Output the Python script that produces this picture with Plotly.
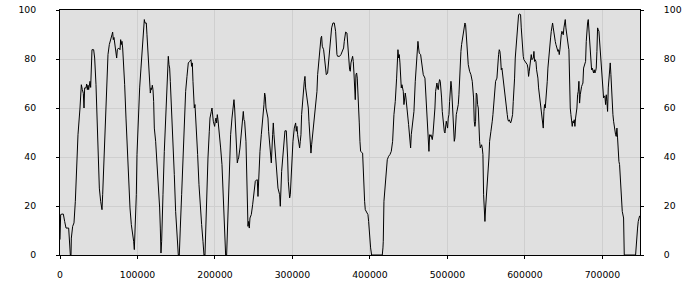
import plotly.graph_objects as go

x_vals = [
    0, 860, 2580, 4300, 6020, 7740, 11180, 12040, 13330, 14190, 14620, 16340, 18060, 19780, 21500, 23220,
    25800, 27530, 28820, 30100, 30970, 31830, 33550, 34410, 35270, 36130, 36990, 38710, 39570, 40430, 41290,
    43440, 44730, 46450, 47740, 49030, 50750, 52470, 54190, 55050, 56770, 58490, 60210, 61930, 63650, 65360,
    67080, 67940, 68800, 69660, 70950, 72260, 73120, 73980, 75700, 77420, 78280, 79140, 80000, 80860, 81720,
    83440, 85160, 86880, 88600, 90320, 92040, 93760,
    95050, 95910, 96770, 97630, 98490, 99350, 101070, 102790, 104510, 106230, 107950, 108810, 109670, 111390,
    112250, 113970, 115690, 116560, 117420, 118280, 119140, 120000, 120860, 121720, 123440, 125160, 126880,
    128600, 129460, 130320, 131180, 132040, 132900, 134620, 136340, 138060, 139780, 140640, 141500, 142360,
    144080, 145800, 147520, 149240, 150960, 152680, 153970, 154400, 155260, 156980, 158700, 160430, 162150,
    163870, 165590, 167310, 169030, 169890, 170750, 171610, 172470, 173330, 174190, 175910, 177630, 179350,
    181070, 182790, 184510, 185800,
    187090, 187520, 189240, 190960, 192680, 193540, 195260, 196130, 197850, 199570, 200430, 201290, 202150,
    203010, 203870, 205590, 207310, 209030, 210750, 212470, 213760, 215050, 215910, 216770, 218490, 220210,
    221930, 223650, 224510, 225370, 226230, 227090, 227950, 228810, 229670, 230530, 232250, 233970, 235690,
    236550, 237410, 238270, 239990, 240850, 241710, 242580, 243440, 244300, 245160, 246880, 248600, 250320,
    252040, 253760, 254620, 255480, 256340, 258060, 259780, 261500, 263220, 264080, 264940, 265800, 267520,
    268380, 269250, 270970, 271830, 272690, 274410, 275270, 276130, 277850, 279570, 281290,
    283440, 284300, 286020, 287740, 288600, 289460, 290320, 292040, 292900, 293760, 294620, 296340, 297200,
    298920, 300640, 302360, 304080, 304940, 305800, 306660, 307520, 308380, 309240, 310100, 310960, 311820,
    312680, 314400, 315260, 316120, 316980, 318700, 320430, 321290, 322150, 323010, 323870, 324730, 326450,
    328170, 329890, 331610, 332470, 334190, 335910, 336770, 337630, 338490, 340210, 341070, 342790, 343650,
    345370, 347090, 348810, 350530, 352250, 353970, 355690, 356550, 357410, 358270, 360850, 362570, 364290,
    366010, 366870, 367730, 368600, 370320, 371180, 372040, 372900, 373760, 374620, 375480,
    377630, 378490, 379350, 380210, 381070, 381930, 382790, 383650, 384510, 385370, 386230, 387090, 387950,
    390530, 391390, 392250, 393110, 393970, 395690, 397410, 398270, 399130, 400850, 402140, 415910, 416770,
    417200, 418060, 419780, 420640, 422360, 424080, 425800, 427520, 429240, 430960, 432680, 434400, 436120,
    436980, 437840, 438700, 439560, 440420, 441280, 442140, 443000, 443860, 444720, 445580, 446440, 447300,
    449020, 449880, 450740, 451600, 452470, 453330, 454190, 455050, 456770, 458490, 460210, 461070, 461930,
    462790, 463650, 465370, 467090, 468810,
    470960, 471820, 472680, 473540, 474400, 475260, 476120, 476980, 477840, 478700, 479560, 480420, 481280,
    482140, 483000, 483860, 484720, 485580, 486440, 487300, 488160, 489020, 489880, 490740, 491600, 492460,
    493320, 494190, 495050, 495910, 496770, 497630, 498490, 499350, 500210, 501070, 501930, 502790, 503650,
    504510, 505370, 506230, 507090, 507950, 508810, 509670, 510530, 511390, 512250, 513110, 513970, 514830,
    515690, 516550, 517410, 518270, 519130, 520850, 521710, 522570, 523430, 524290, 525150, 526010, 526870,
    528590, 529450, 530310, 532030, 532890, 533750, 534610, 535470, 536330, 537190, 538060, 538920, 539780,
    541500, 542360, 543220, 544080, 544940, 545800, 546660, 547520, 548380, 549240, 550100, 550960, 552680,
    553540, 554400, 556120, 556980, 557840, 558700, 560420, 561280, 562140, 563860,
    564290, 565150, 566010, 566870, 567730, 568590, 569450, 570310, 571170, 572030, 572890, 573760, 574620,
    575480, 576340, 577200, 578060, 578920, 579780, 580640, 581500, 582360, 583220, 584080, 584940, 585800,
    586660, 587520, 588380, 589240, 590100, 590960, 591820, 593540, 594400, 595260, 596120, 596980, 597840,
    598700, 600420, 602140, 603000, 603860, 604720, 605580, 606440, 607300, 608160, 609020, 609880, 610750,
    611610, 612470, 613330, 614190, 615050, 615910, 616770, 617630, 618490, 619350, 620210, 621070, 621930,
    622790, 623650, 624510, 625370, 626230, 627090, 627950, 628810, 629670, 630530, 631390, 632260, 633120,
    633980, 634840, 635700, 636560, 637420, 638280, 639140, 640000, 640860, 641720, 642580, 643440, 644300,
    645160, 646020, 646880, 647740, 648600, 649460, 650320, 651180, 652030, 652890, 653750, 654610, 655470,
    656330,
    656760, 657620, 658480, 659340, 660200, 661060, 661920, 662780, 663640, 664500, 665370, 666230, 667090,
    667950, 668810, 669670, 670530, 671390, 672250, 673110, 673970, 674830, 675690, 676550, 677410, 678270,
    679130, 679990, 680850, 681710, 682570, 683430, 684290, 685150, 686010, 686870, 687730, 688590, 689450,
    690310, 691170, 692030, 692890, 693750, 694610, 695470, 696330, 697190, 698050, 698910, 699770, 700630,
    701500, 702360, 703220, 704080, 704940, 705800, 706660, 707520, 708380, 709240, 710100, 710960, 711820,
    712680, 713540, 714400, 715260, 716120, 716980, 717840, 718700, 719560, 720420, 721280, 722140, 723000,
    723870, 724730, 725590, 727310, 728170, 742790, 743650, 744510, 745370, 746230, 747090, 748000,
]

y_vals = [
    6.3, 16.5, 16.7, 16.7, 13.7, 11.0, 11.0, 5.6, 0, 0, 6.9, 11.7, 13.1, 21.9, 38.2, 49.1,
    60.0, 69.5, 67.5, 66.0, 60.0, 68.2, 68.2, 69.8, 67.5, 69.3, 67.5, 70.9, 68.4, 76.3, 83.8,
    83.8, 80.4, 69.5, 54.6, 45.0, 27.3, 21.9, 18.5, 24.6, 41.0, 57.3, 72.2, 81.8, 85.9, 88.6,
    89.9, 91.0, 87.9, 88.8, 85.6, 83.4, 80.4, 83.8, 84.5, 83.8, 87.9, 85.9, 87.2, 84.5, 80.4,
    69.5, 55.9, 42.3, 28.7, 19.2, 12.4, 9.4,
    5.6, 2.2, 8.3, 15.1, 24.6, 41.0, 55.9, 68.2, 76.3, 85.9, 92.7, 96.1, 94.7, 94.7,
    89.9, 80.4, 70.9, 66.1, 68.2, 67.5, 69.3, 67.5, 62.7, 51.8, 46.4, 38.2, 27.3,
    19.2, 11.0, 0.8, 5.6, 12.4, 24.6, 42.3, 57.3, 70.9, 81.1, 77.7, 76.3, 70.9,
    60.0, 46.4, 32.8, 17.8, 6.9, 0, 0, 5.6, 11.0, 24.6, 41.0, 54.6, 66.8,
    72.9, 78.4, 79.0, 79.7, 77.0, 78.4, 70.9, 62.7, 60.0, 61.4, 53.2, 41.0, 28.7,
    17.8, 12.4, 5.6, 0,
    0, 5.6, 24.6, 39.6, 50.5, 55.9, 58.6, 60.0, 54.6, 52.5, 54.6, 55.9, 53.9,
    57.3, 55.2, 50.5, 43.7, 36.9, 21.9, 12.4, 0, 0, 8.3, 19.2, 35.5, 49.1,
    55.9, 62.0, 63.4, 60.0, 53.2, 46.4, 39.6, 37.6, 38.9, 39.6, 43.7, 49.1, 55.9,
    58.6, 55.2, 54.6, 46.4, 35.5, 19.2, 11.7, 13.7, 11.0, 15.1, 16.5, 20.5, 24.6,
    30.1, 30.7, 30.7, 23.9, 31.4, 42.3, 49.1, 54.6, 61.4, 66.1, 64.8, 60.0, 57.3,
    55.9, 50.5, 45.0, 41.0, 37.6, 49.1, 53.9, 49.1, 41.0, 35.5, 27.3,
    24.6, 19.9, 34.1, 41.0, 46.4, 50.5, 50.7, 50.7, 46.4, 39.6, 30.1, 23.3, 24.6,
    38.2, 46.4, 51.8, 53.9, 50.5, 52.5, 49.1, 46.4, 45.7, 43.7, 46.4, 49.1, 57.3,
    61.4, 68.2, 70.9, 72.9, 68.2, 64.1, 60.0, 54.6, 49.1, 43.7, 41.6, 45.0, 50.5,
    55.9, 60.0, 66.8, 73.6, 80.4, 83.8, 88.6, 89.3, 85.2, 83.8, 80.4, 76.3, 73.6,
    74.3, 80.4, 88.6, 92.7, 94.7, 94.7, 91.3, 85.9, 81.8, 81.1, 81.1, 81.8, 83.1,
    84.5, 87.2, 89.9, 91.0, 90.6, 87.2, 81.8, 77.7, 75.6, 75.0, 78.4,
    81.1, 79.0, 74.3, 68.2, 63.4, 73.6, 74.3, 72.2, 62.7, 60.0, 53.9, 46.4, 42.3,
    41.6, 32.8, 28.7, 21.9, 18.5, 17.1, 16.5, 13.7, 8.3, 2.9, 0, 0, 2.9,
    5.6, 21.9, 30.1, 34.1, 38.9, 40.3, 41.0, 42.3, 46.4, 57.3, 62.7, 72.2, 83.8,
    80.4, 81.8, 78.4, 74.3, 68.2, 69.5, 68.2, 66.8, 61.4, 65.4, 66.1, 64.1, 60.0,
    55.9, 53.2, 49.1, 46.4, 43.7, 49.1, 51.8, 55.9, 58.6, 70.9, 80.4, 83.1, 87.2,
    84.5, 82.4, 81.8, 76.3, 73.6,
    72.2, 66.8, 58.6, 55.9, 50.5, 46.4, 42.3, 49.1, 48.4, 49.1, 47.8, 47.1, 49.1,
    51.8, 55.9, 60.0, 66.8, 69.5, 70.2, 68.2, 67.5, 70.2, 71.6, 70.9, 68.2, 64.1,
    58.6, 54.6, 51.8, 50.5, 49.8, 51.8, 54.6, 53.2, 51.8, 55.9, 57.3, 62.7, 65.4,
    70.9, 68.2, 62.7, 54.6, 51.8, 46.4, 47.8, 54.6, 57.3, 58.6, 60.0, 61.4, 65.4,
    73.6, 77.7, 83.1, 85.9, 87.9, 91.3, 92.7, 94.7, 94.0, 89.9, 85.9, 81.8, 77.7,
    75.0, 74.3, 73.6, 70.9, 66.8, 64.1, 54.6, 52.5, 54.6, 66.1, 65.4, 61.4, 60.0,
    46.4, 43.7, 44.4, 45.0, 43.7, 41.0, 24.6, 19.2, 13.7, 19.2, 24.6, 30.1, 35.5,
    39.6, 46.4, 50.5, 51.8, 54.6, 57.3, 65.4, 68.2, 70.9, 72.2,
    75.0, 79.0, 81.8, 83.8, 83.1, 80.4, 75.6, 76.3, 73.6, 71.6, 69.5, 66.8, 64.1,
    61.4, 58.6, 57.3, 55.2, 54.6, 55.2, 54.6, 53.9, 54.6, 55.9, 57.3, 62.7, 66.8,
    72.2, 80.4, 84.5, 87.2, 89.9, 95.4, 98.1, 98.4, 98.1, 92.7, 87.2, 84.5, 81.1,
    79.7, 79.0, 78.4, 77.7, 76.3, 72.9, 75.0, 77.0, 79.0, 81.8, 79.7, 80.4, 80.4,
    83.1, 79.0, 79.7, 79.0, 75.6, 74.3, 72.2, 68.2, 65.4, 64.1, 61.4, 60.0, 55.9,
    54.6, 51.8, 58.6, 61.4, 60.0, 62.7, 66.8, 70.9, 76.3, 80.4, 83.1, 85.9, 88.6,
    91.3, 92.7, 94.7, 92.7, 89.9, 88.6, 87.2, 85.9, 84.5, 83.8, 83.1, 83.8, 81.8,
    83.8, 87.9, 89.9, 91.3, 90.6, 89.9, 92.7, 94.0, 96.1, 92.7, 89.9, 87.9, 87.2,
    84.5,
    83.8, 68.2, 60.0, 57.3, 53.9, 52.5, 54.6, 53.9, 55.2, 52.5, 55.9, 58.0, 60.0,
    65.4, 66.8, 70.9, 62.0, 65.4, 68.2, 68.8, 69.5, 70.2, 76.3, 77.7, 78.4, 79.0,
    87.2, 92.7, 94.7, 96.1, 91.3, 87.2, 80.4, 76.3, 75.6, 76.3, 75.0, 74.3, 75.6,
    74.3, 75.0, 76.3, 83.1, 92.7, 92.0, 91.3, 87.2, 83.1, 79.0, 76.3, 72.2, 68.2,
    64.1, 64.8, 64.8, 61.4, 65.4, 62.7, 58.6, 68.2, 71.6, 75.0, 78.4, 73.6, 66.8,
    60.0, 57.3, 54.6, 51.8, 50.5, 49.1, 48.4, 51.8, 47.8, 39.6, 38.2, 36.9, 32.8,
    27.3, 21.9, 17.8, 15.1, 0, 0, 5.6, 8.3, 11.0, 13.7, 15.1, 16.0,
]

x_ticks = [0, 100000, 200000, 300000, 400000, 500000, 600000, 700000]
x_tick_text = ["0", "100000", "200000", "300000", "400000", "500000", "600000", "700000"]
y_ticks = [0, 20, 40, 60, 80, 100]
y_tick_text = ["0", "20", "40", "60", "80", "100"]

fig = go.Figure()
fig.add_trace(go.Scatter(x=x_vals, y=y_vals, mode="lines",
                         line=dict(color="black", width=1),
                         showlegend=False, hoverinfo="skip"))
fig.add_trace(go.Scatter(x=x_vals, y=y_vals, mode="lines", yaxis="y2",
                         line=dict(color="black", width=1), opacity=0,
                         showlegend=False, hoverinfo="skip"))

font = dict(family="DejaVu Sans", size=9.3, color="black")

fig.update_layout(
    width=700, height=300,
    margin=dict(l=60, r=60, t=10, b=45),
    paper_bgcolor="white",
    plot_bgcolor="#e0e0e0",
    font=font,
    showlegend=False,
    xaxis=dict(
        range=[0, 748500], tickvals=x_ticks, ticktext=x_tick_text,
        showgrid=True, gridcolor="#cfcfcf", gridwidth=1,
        showline=True, linecolor="black", linewidth=1, mirror=True,
        ticks="outside", ticklen=3, tickcolor="black", tickwidth=1,
        zeroline=False, ticklabelstandoff=8, tickfont=font, automargin=False,
    ),
    yaxis=dict(
        range=[0, 100], tickvals=y_ticks, ticktext=y_tick_text,
        showgrid=True, gridcolor="#cfcfcf", gridwidth=1,
        showline=True, linecolor="black", linewidth=1, mirror=True,
        ticks="outside", ticklen=3, tickcolor="black", tickwidth=1,
        zeroline=False, ticklabelstandoff=18, tickfont=font, automargin=False,
    ),
    yaxis2=dict(
        range=[0, 100], tickvals=y_ticks, ticktext=y_tick_text,
        overlaying="y", side="right", showgrid=False,
        showline=True, linecolor="black", linewidth=1,
        ticks="outside", ticklen=3, tickcolor="black", tickwidth=1,
        zeroline=False, ticklabelstandoff=18, tickfont=font, automargin=False,
    ),
)

fig.write_html("out.html")
